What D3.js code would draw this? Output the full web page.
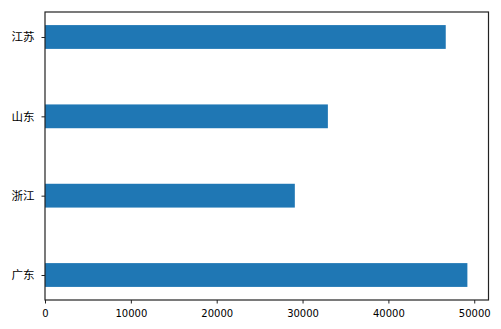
<!DOCTYPE html>
<html><head><meta charset="utf-8">
<script src="https://cdn.jsdelivr.net/npm/d3@7"></script>
<style>body{margin:0;background:#fff}svg{display:block}</style>
</head><body>
<script>
const categories = ["广东", "浙江", "山东", "江苏"];
const values = [49200, 29100, 32950, 46680];
const xTicks = [0, 10000, 20000, 30000, 40000, 50000];

const W = 501, H = 329;
const m = {left: 45, right: 12.5, top: 12, bottom: 29};
const svg = d3.select("body").append("svg").attr("width", W).attr("height", H);

const maxV = d3.max(values);
const x = d3.scaleLinear().domain([0, maxV * 1.05]).range([m.left, W - m.right]);
const bw = 0.3;
const n = categories.length;
const span = (n - 1) + bw;
const y = d3.scaleLinear().domain([-bw/2 - span*0.05, n - 1 + bw/2 + span*0.05]).range([H - m.bottom, m.top]);

svg.append("g").selectAll("rect").data(values).join("rect")
  .attr("x", x(0))
  .attr("y", (d, i) => y(i + bw/2))
  .attr("width", d => x(d) - x(0))
  .attr("height", (d, i) => y(i - bw/2) - y(i + bw/2))
  .attr("fill", "#1f77b4");

const xa = svg.append("g").attr("transform", `translate(0,${H - m.bottom})`)
  .call(d3.axisBottom(x).tickValues(xTicks).tickFormat(d3.format("d")).tickSize(3.5).tickPadding(6));
const ya = svg.append("g").attr("transform", `translate(${m.left},0)`)
  .call(d3.axisLeft(y).tickValues(d3.range(n)).tickFormat(i => categories[i]).tickSize(3.5).tickPadding(7));
[xa, ya].forEach(a => {
  a.select(".domain").remove();
  a.selectAll("line").attr("stroke", "#222").attr("stroke-width", 1);
  a.selectAll("text").attr("fill", "#000");
});
xa.selectAll("text").attr("font-family", "'DejaVu Sans', sans-serif").attr("font-size", 10);
ya.selectAll("text").attr("font-family", "'Noto Sans CJK SC', sans-serif").attr("font-size", 11.5);

svg.append("rect")
  .attr("x", m.left).attr("y", m.top)
  .attr("width", W - m.right - m.left).attr("height", H - m.bottom - m.top)
  .attr("fill", "none").attr("stroke", "#222").attr("stroke-width", 1.2);
</script>
</body></html>
